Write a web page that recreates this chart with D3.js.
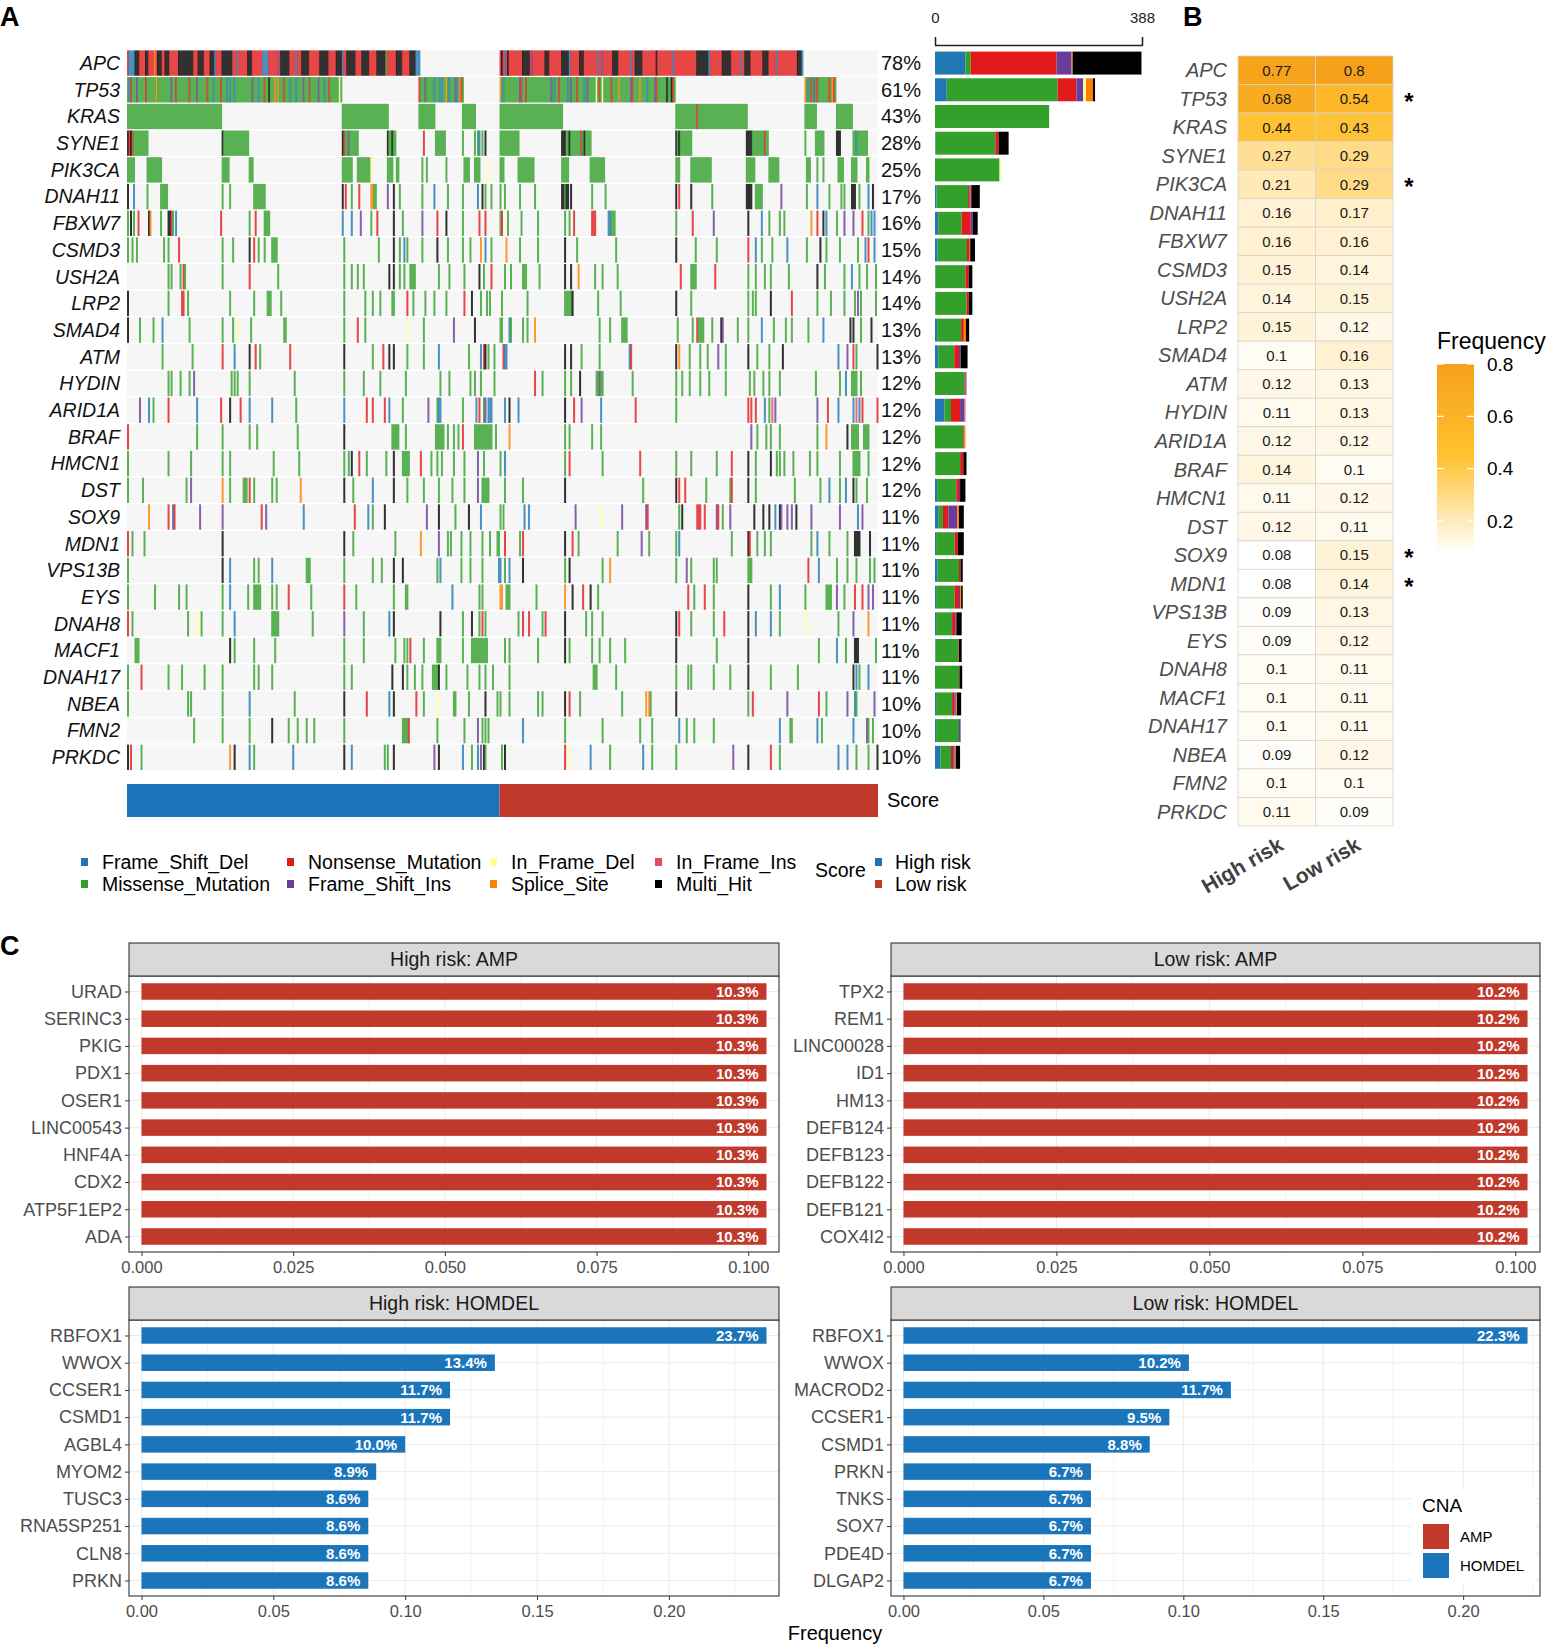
<!DOCTYPE html>
<html>
<head>
<meta charset="utf-8">
<script src="https://cdn.jsdelivr.net/npm/d3@7"></script>
<style>
  body { margin: 0; background: #fff; }
  text { font-family: "Liberation Sans", Arial, Helvetica, sans-serif; }
</style>
</head>
<body>
<svg id="fig" width="1550" height="1647"></svg>
<script>
// ---------- data ----------
var genes = ['APC','TP53','KRAS','SYNE1','PIK3CA','DNAH11','FBXW7','CSMD3','USH2A','LRP2','SMAD4','ATM','HYDIN',
  'ARID1A','BRAF','HMCN1','DST','SOX9','MDN1','VPS13B','EYS','DNAH8','MACF1','DNAH17','NBEA','FMN2','PRKDC'];
var pctLabels = ['78%','61%','43%','28%','25%','17%','16%','15%','14%','14%','13%','13%','12%','12%','12%','12%','12%',
  '11%','11%','11%','11%','11%','11%','11%','10%','10%','10%'];

// legend order = stacking order of the side bars
var mutTypes = ['Frame_Shift_Del','Missense_Mutation','Nonsense_Mutation','Frame_Shift_Ins','In_Frame_Del','Splice_Site','In_Frame_Ins','Multi_Hit'];
var mutCodes = ['F','M','N','I','D','S','P','X'];
var mutColors = ['#1F78B4','#33A02C','#E31A1C','#6A3D9A','#FFFF99','#FF7F00','#E8465A','#000000'];

var nSamples = 500, nHigh = 248;
var scoreGroups = ['High risk','Low risk'];
var scoreColors = ['#1B75BB','#C0392B'];

// sample index (0..499, high risk 0..247) + mutation code; later tokens overwrite earlier ones
var oncoMarks = [
 '0-194N 1-4F 5-7X 12-13X 18S 20-22X 25-27X 34-43X 47-50X 55-57X 58F 63-69X 73F 80-82X 90-93F 100I 102-107X 112F 116-120X 128-133X 139-142X 143F 146-151X 156-160X 166-171X 172M 179-182X 188-191X 192-194F 248-449N 249X 251F 253X 263-267X 269I 278-280X 289-293X 294F 301-303X 313F 316I 323-326X 335F 338-342X 352X 363F 379-386X 387F 396-401X 408F 411-414X 423-426X 432F 446-448X 449F',
 '0-142M 1F 2N 6I 12N 19S 29I 32N 41N 46I 53N 57F 62N 66F 68F 71F 83I 87F 91N 94X 98S 100S 104N 108F 112F 117I 121N 127I 131F 134N 141D 194-223M 194N 198I 204F 208F 209F 212S 214F 218I 219F 221S 222N 248-364M 248S 250F 261I 262N 265N 282I 284F 287N 293F 295I 299N 304F 306I 312D 314N 316D 322N 327S 335I 336N 341S 346F 351I 352N 359X 362X 363N 451-471M 451S 453F 455N 457I 459N 467N 469S 470N',
 '0-62M 143-173M 194-204M 223-231M 248-289M 365-412M 379N 451-458M 472-482M',
 '0X 1N 2X 3N 4-13M 63-80M 63X 143X 144N 145-153M 147I 173X 174-175M 176X 177-178M 197N 205-211M 223M 231M 233M 234F 236M 238X 248-260M 289-291X 292-308M 294X 302N 304X 365X 366-375M 367X 412-415X 416-426M 424N 451M 458-463M 472-474X 483-492M 485F',
 '0-4M 13-22M 63-67M 81-83M 143-149M 153-161M 162D 173-176M 179-180M 196M 199M 212M 224-227M 231-234M 240D 248-250M 260-270M 289-293M 308-317M 365-367M 375-388M 412-417M 427-433M 452-454M 459M 463M 473-476M 482-485M 492-493M',
 '0X 4F 13M 22-26M 63M 68M 84-91M 143X 145N 149M 154N 162-163S 164-165M 173I 177X 181M 196M 204F 213M 223M 233F 236X 238M 242M 248M 251M 261M 271M 289-293X 291M 295X 309M 318M 365X 367N 375X 389M 412-415X 418-422M 435I 452M 459F 467M 475M 477M 482-484X 487M 493F 496X',
 '0M 2X 4M 7N 14X 15S 22M 27-28X 29N 30M 32F 62N 81M 85N 91-94M 143F 149F 155I 162M 166N 177X 183M 196I 206N 212X 223M 234N 238N 248M 249N 253M 262M 273M 291M 294M 297N 309-311N 320-321F 322-324M 365M 376N 390I 413X 422F 427M 434M 437M 455S 459N 463X 465F 472M 477I 483I 489N 493M 495F 497F',
 '0M 3M 6M 24M 27M 34N 63M 70M 81X 84N 87M 91M 96-99M 144M 167M 177X 181M 184F 186M 196M 206X 213M 223M 228M 235S 238F 242M 252S 261M 273M 291X 299M 325M 365X 378M 392M 413N 418F 422M 429M 439F 452M 461X 465M 474M 486M 491F 493N 497F',
 '27M 29M 35M 37N 38M 63M 81N 100M 144M 149M 153M 157M 174X 177X 181M 184M 188-191M 207M 214M 224M 234X 237M 242N 251M 255M 263-265M 274M 291X 295X 300S 311M 316M 326M 368N 375-378M 391N 413M 418M 424M 428M 440M 459X 464M 477M 482F 487M 492M 498M',
 '0X 27M 36-37N 40M 68M 84M 93-95M 102M 144M 158M 163M 168M 176M 177M 186N 190M 198M 204M 212M 224N 229X 235M 239M 241M 249M 266M 291-295M 296X 313M 328M 365X 375M 413M 416M 418M 428X 442N 459M 468M 477M 484M 486I 488M 498M',
 '0X 8M 17M 23F 41M 63M 70M 73D 82M 104-105M 144M 153N 158M 186D 197M 217I 231X 248M 249M 254F 255M 263M 266M 271S 314M 321M 329-332M 366M 376M 379N 380-383M 389M 395X 396I 406M 413M 422F 430M 438M 442M 453M 463F 481X 483X 488M 495X',
 '23M 43M 63N 71F 81X 85N 88M 108N 144X 163M 170N 174X 177X 186M 197M 207F 227M 235F 237N 238X 240M 244M 250N 251F 252F 291X 295X 302M 314M 334F 335N 365X 367S 374M 381M 386M 393I 398M 413X 419M 427M 436X 473F 479I 483N 485M 499X',
 '27M 29M 35M 41M 44I 69M 71M 73M 81M 111M 144M 157M 168M 185M 208M 214M 228M 231M 235M 244M 271N 276M 291M 295M 301X 312-316M 314I 336M 365M 369M 374M 381M 387M 398M 414M 417M 423M 427M 434M 458M 474M 478F 482-485M 488M',
 '8I 14F 17M 27N 46F 62N 68X 75N 81F 96F 112M 144F 159N 163N 171N 174F 183M 200I 206M 207-208F 223M 232F 234N 237M 238I 240-242F 251F 254X 260F 291X 297N 302I 315F 338N 365M 413N 415N 418N 424F 427M 429P 431I 459I 466N 473F 483F 485P 487F 489N 499N',
 '0N 46M 63M 81M 86M 113M 144X 176-180M 185M 205-210M 213M 217M 220M 223N 231-242M 245M 254S 291M 294M 309M 315M 415I 419M 425M 428M 434M 459M 465S 479X 482-486M 490-493M',
 '0M 27M 42M 63M 68M 97M 114M 144M 147M 149X 154N 159M 172M 177X 183-187M 195N 202M 206M 209M 217M 224M 233I 237M 248M 251F 291M 294N 316M 341N 365M 375M 392M 402N 413X 418M 428X 432M 434M 437M 443M 454M 459M 474M 483-487M 493M',
 '0M 10M 39M 42I 63S 68M 77-79M 81N 84M 96M 99M 115S 144X 150M 163F 177X 186M 197M 207M 216M 224M 233I 236-240M 251M 263M 291X 343M 365X 367N 371N 385M 401M 402N 413X 418M 444M 461M 467F 474M 478F 483X 485M 492M',
 '14S 27N 30F 31N 48I 63I 89N 92I 117F 151N 160F 163M 171X 199I 207X 218M 227X 235F 248M 250M 264F 267F 298I 315D 329I 345I 346N 367M 369X 379-381N 384N 392I 393N 396M 401I 417X 423X 427X 431F 434X 435I 439I 442I 445X 455I 474I 486F 489I',
 '0N 3M 11M 63X 144X 150M 178M 195S 207I 213M 215M 222M 228M 236M 241M 246M 247M 251N 261M 263N 291X 296N 300M 326M 342I 347M 365M 367F 402M 413X 414N 419M 424M 428M 455M 459F 467M 479M 484-487X 494X',
 '0M 63X 68F 84M 87M 96F 119-121M 144M 163M 169M 177X 183X 206M 208F 222M 228M 236M 247F 248F 251M 254F 263X 291M 294X 316M 321S 365M 372I 375M 390M 392M 413-415M 453N 460F 472M 479M 485M 494M 497M',
 '0M 18M 34M 39M 63M 68F 80M 84-88M 96M 99M 107N 122M 144N 152M 177M 185-186M 216F 234M 236M 248S 249S 252-254M 272M 291S 296X 303N 308X 313M 373N 377M 384N 390M 413X 428M 434F 451M 465-468M 472I 477M 484N 489N 493I 496I',
 '0N 3M 40M 46D 49M 63M 71F 96-100M 123M 144I 157M 174F 177X 208X 223M 229X 234M 236N 238M 260M 263N 267N 276M 278N 291X 305M 309M 316M 365X 367N 375M 390M 397N 413X 418F 428F 434M 452D 473M 483I 493S',
 '5-7M 68X 71M 84M 98M 144M 157M 178M 184M 186M 188N 197M 206-208M 223M 229-239M 251M 254M 273M 291X 294M 309M 314M 321M 331M 365X 392M 413X 460M 472F 478M 484-486X 498M',
 '0M 9N 27M 36M 51M 63M 84M 87M 96M 144M 149M 176X 183X 186M 191M 196M 203-206M 207X 212M 226M 234M 238M 243M 254M 310-312M 325M 365M 373M 375M 390M 401M 413X 428M 446M 483X 485F 487M 493F',
 '0M 40M 42M 63M 81F 111M 144X 159N 174F 177X 192N 197M 207D 217M 218M 227M 238X 246M 248M 254M 273M 276M 291X 294N 301M 329M 345S 347S 348M 365X 413M 416N 439I 460N 465M 479I 484F 485M 497I',
 '44M 63M 81M 96X 107M 113M 119M 124M 144M 183-186M 187N 206M 224M 233I 236M 238M 240M 263F 291M 316M 341M 349M 367F 372M 377M 390M 434F 441M 442M 459F 462M 483F 492I 493M 496M',
 '0X 2N 9M 68S 71X 81F 84M 110F 144X 149F 171M 173M 177X 204I 207X 223F 229M 233F 235I 237X 238M 249M 251X 291N 294D 308F 321M 343F 349M 365M 403I 413X 428N 434M 473F 479F 485M 493M 499X'
];

// side bar counts per gene: F, M, N, I, D, S, P, X
var barCounts = [
 [57,10,161,28,0,2,0,129],[22,208,35,13,5,13,0,4],[0,214,0,0,0,0,0,0],[1,112,6,0,0,0,0,19],[0,121,0,0,3,0,0,0],
 [3,59,3,2,0,1,0,16],[6,44,17,4,0,0,0,9],[5,55,5,0,0,1,0,9],[1,56,6,0,0,0,0,7],[1,58,4,0,0,0,0,7],
 [4,45,5,0,0,4,0,6],[6,30,9,3,0,0,0,13],[0,55,2,2,0,0,0,0],[18,12,17,8,0,0,2,0],[0,53,2,0,0,2,0,0],
 [1,46,6,0,0,0,0,6],[4,36,5,2,0,0,0,10],[6,9,10,17,0,3,0,9],[2,35,6,0,0,0,0,11],[5,40,3,0,0,0,0,4],
 [2,35,8,2,0,2,0,3],[2,30,6,2,0,0,0,10],[1,43,1,0,0,0,0,5],[0,45,1,0,0,0,0,5],[2,30,4,3,0,2,0,8],
 [2,43,0,3,0,0,0,0],[10,20,4,3,0,2,0,8]
];
var barMax = 388;

// panel B
var freqHigh = [0.77,0.68,0.44,0.27,0.21,0.16,0.16,0.15,0.14,0.15,0.1,0.12,0.11,0.12,0.14,0.11,0.12,0.08,0.08,0.09,0.09,0.1,0.1,0.1,0.09,0.1,0.11];
var freqLow  = [0.8,0.54,0.43,0.29,0.29,0.17,0.16,0.14,0.15,0.12,0.16,0.13,0.13,0.12,0.1,0.12,0.11,0.15,0.14,0.13,0.12,0.11,0.11,0.11,0.12,0.1,0.09];
var starGenes = ['TP53','PIK3CA','SOX9','MDN1'];
var legendTicksB = [0.2,0.4,0.6,0.8];

// panel C
var highAmpGenes = ['URAD','SERINC3','PKIG','PDX1','OSER1','LINC00543','HNF4A','CDX2','ATP5F1EP2','ADA'];
var highAmpFreq  = [0.103,0.103,0.103,0.103,0.103,0.103,0.103,0.103,0.103,0.103];
var lowAmpGenes  = ['TPX2','REM1','LINC00028','ID1','HM13','DEFB124','DEFB123','DEFB122','DEFB121','COX4I2'];
var lowAmpFreq   = [0.102,0.102,0.102,0.102,0.102,0.102,0.102,0.102,0.102,0.102];
var highDelGenes = ['RBFOX1','WWOX','CCSER1','CSMD1','AGBL4','MYOM2','TUSC3','RNA5SP251','CLN8','PRKN'];
var highDelFreq  = [0.237,0.134,0.117,0.117,0.100,0.089,0.086,0.086,0.086,0.086];
var lowDelGenes  = ['RBFOX1','WWOX','MACROD2','CCSER1','CSMD1','PRKN','TNKS','SOX7','PDE4D','DLGAP2'];
var lowDelFreq   = [0.223,0.102,0.117,0.095,0.088,0.067,0.067,0.067,0.067,0.067];
var ampTicks = [0, 0.025, 0.05, 0.075, 0.1];
var delTicks = [0, 0.05, 0.1, 0.15, 0.2];
var cnaTypes = ['AMP','HOMDEL'];
var cnaColors = ['#C0392B','#1B75BB'];

// ---------- drawing ----------
var svg = d3.select('#fig');
var colorOf = {};
mutCodes.forEach(function(c, i){ colorOf[c] = mutColors[i]; });

function parseMarks(s) {
  var cells = [];
  s.trim().split(/\s+/).forEach(function(tok){
    var m = tok.match(/^(\d+)(?:-(\d+))?([A-Z])$/);
    var a = +m[1], b = m[2] ? +m[2] : a;
    for (var i = a; i <= b; i++) cells[i] = m[3];
  });
  return cells;
}

// panel letters
[['A',0,26],['B',1183,26],['C',0,955]].forEach(function(p){
  svg.append('text').attr('x',p[1]).attr('y',p[2]).text(p[0])
    .style('font-size','27px').style('font-weight','bold');
});

// --- A: oncoplot
var xS = d3.scaleLinear().domain([0, nSamples]).range([127, 878]);
var yA = d3.scaleBand().domain(genes).range([50.4, 770]).paddingInner(0.05);

var onco = svg.append('g');
onco.selectAll('rect.bg').data(genes).enter().append('rect')
  .attr('class','bg')
  .attr('x', xS(0)).attr('width', xS(nSamples) - xS(0))
  .attr('y', function(d){ return yA(d); }).attr('height', yA.bandwidth())
  .attr('fill', '#F6F6F6');

genes.forEach(function(g, gi){
  var cells = parseMarks(oncoMarks[gi]);
  var runs = [];
  for (var i = 0; i < nSamples; i++) {
    var t = cells[i];
    if (!t) continue;
    var last = runs[runs.length - 1];
    if (last && last.t === t && last.e === i) last.e = i + 1;
    else runs.push({s: i, e: i + 1, t: t});
  }
  onco.append('g').selectAll('rect').data(runs).enter().append('rect')
    .attr('x', function(d){ return xS(d.s); })
    .attr('width', function(d){ return xS(d.e) - xS(d.s) + 0.5; })
    .attr('y', yA(g)).attr('height', yA.bandwidth())
    .attr('fill', function(d){ return colorOf[d.t]; })
    .attr('fill-opacity', 0.8);
});

onco.selectAll('text.gene').data(genes).enter().append('text')
  .attr('x', 120).attr('y', function(d){ return yA(d) + yA.bandwidth()/2; })
  .attr('dy','0.35em').attr('text-anchor','end')
  .style('font-size','19.5px').style('font-style','italic').style('fill','#111')
  .text(function(d){ return d; });

onco.selectAll('text.pct').data(genes).enter().append('text')
  .attr('x', 881).attr('y', function(d){ return yA(d) + yA.bandwidth()/2; })
  .attr('dy','0.35em')
  .style('font-size','20px').style('fill','#111')
  .text(function(d, i){ return pctLabels[i]; });

// side bars
var xBar = d3.scaleLinear().domain([0, barMax]).range([935, 1142]);
var side = svg.append('g');
genes.forEach(function(g, gi){
  var acc = 0, segs = [];
  barCounts[gi].forEach(function(v, k){ if (v > 0) { segs.push({a: acc, b: acc + v, c: mutColors[k]}); acc += v; } });
  var h = yA.step() * 0.86;
  side.append('g').selectAll('rect').data(segs).enter().append('rect')
    .attr('x', function(d){ return xBar(d.a); })
    .attr('width', function(d){ return xBar(d.b) - xBar(d.a); })
    .attr('y', yA(g) + yA.bandwidth()/2 - h/2).attr('height', h)
    .attr('fill', function(d){ return d.c; });
});
var ax = svg.append('g').attr('transform','translate(0,45)')
  .call(d3.axisTop(xBar).tickValues([0, barMax]).tickSize(8).tickSizeOuter(8).tickPadding(14));
ax.selectAll('text').style('font-size','15px').style('fill','#222')
  .style('font-family','"Liberation Sans", Arial, sans-serif');
ax.selectAll('path,line').attr('stroke','#222').attr('stroke-width',1.3);

// score bar
var scoreG = svg.append('g');
scoreG.append('rect').attr('x', xS(0)).attr('width', xS(nHigh) - xS(0))
  .attr('y', 784).attr('height', 33).attr('fill', scoreColors[0]);
scoreG.append('rect').attr('x', xS(nHigh)).attr('width', xS(nSamples) - xS(nHigh))
  .attr('y', 784).attr('height', 33).attr('fill', scoreColors[1]);
scoreG.append('text').attr('x', 887).attr('y', 800).attr('dy','0.35em')
  .style('font-size','20px').text('Score');

// legend A
var legCols = [81, 287, 490, 655];
var legRows = [862, 884];
var legA = svg.append('g');
mutTypes.forEach(function(t, i){
  var cx = legCols[Math.floor(i/2)], cy = legRows[i % 2];
  legA.append('rect').attr('x', cx).attr('y', cy - 4).attr('width', 7).attr('height', 8).attr('fill', mutColors[i]);
  legA.append('text').attr('x', cx + 21).attr('y', cy).attr('dy','0.35em')
    .style('font-size','19.5px').text(t);
});
legA.append('text').attr('x', 815).attr('y', 870).attr('dy','0.35em').style('font-size','19.5px').text('Score');
scoreGroups.forEach(function(s, i){
  legA.append('rect').attr('x', 875).attr('y', legRows[i] - 4).attr('width', 7).attr('height', 8).attr('fill', scoreColors[i]);
  legA.append('text').attr('x', 895).attr('y', legRows[i]).attr('dy','0.35em').style('font-size','19.5px').text(s);
});

// --- B: frequency heatmap
var xB = d3.scaleBand().domain(scoreGroups).range([1238, 1393]);
var yB = d3.scaleBand().domain(genes).range([56, 826]);
var heat = d3.scaleLinear().domain([0.08, 0.45, 0.8]).range(['#FFFFFF','#FFC02E','#F6A11B']);
var cellsB = [];
genes.forEach(function(g, i){
  cellsB.push({g: g, s: scoreGroups[0], v: freqHigh[i]});
  cellsB.push({g: g, s: scoreGroups[1], v: freqLow[i]});
});
var gB = svg.append('g');
gB.selectAll('rect').data(cellsB).enter().append('rect')
  .attr('x', function(d){ return xB(d.s); }).attr('y', function(d){ return yB(d.g); })
  .attr('width', xB.bandwidth()).attr('height', yB.bandwidth())
  .attr('fill', function(d){ return heat(d.v); })
  .attr('stroke', '#D8D4CC').attr('stroke-width', 0.8);
gB.selectAll('text.val').data(cellsB).enter().append('text')
  .attr('x', function(d){ return xB(d.s) + xB.bandwidth()/2; })
  .attr('y', function(d){ return yB(d.g) + yB.bandwidth()/2; })
  .attr('dy','0.35em').attr('text-anchor','middle')
  .style('font-size','15px').style('fill','#1a1a1a')
  .text(function(d){ return String(d.v); });
gB.selectAll('text.gene').data(genes).enter().append('text')
  .attr('x', 1227).attr('y', function(d){ return yB(d) + yB.bandwidth()/2; })
  .attr('dy','0.35em').attr('text-anchor','end')
  .style('font-size','20px').style('font-style','italic').style('fill','#4D4D4D')
  .text(function(d){ return d; });
gB.selectAll('text.star').data(starGenes).enter().append('text')
  .attr('x', 1409).attr('y', function(d){ return yB(d) + yB.bandwidth()/2 + 11; })
  .attr('text-anchor','middle').style('font-size','24px').style('font-weight','bold')
  .text('*');
gB.selectAll('text.xl').data(scoreGroups).enter().append('text')
  .attr('transform', function(d){ return 'translate(' + (xB(d) + xB.bandwidth()/2 + 8) + ',849) rotate(-30)'; })
  .attr('text-anchor','end')
  .style('font-size','21px').style('font-weight','bold').style('fill','#404040')
  .text(function(d){ return d; });

// legend B
var yLeg = d3.scaleLinear().domain([0.2, 0.8]).range([521, 364]);
var defs = svg.append('defs');
var grad = defs.append('linearGradient').attr('id','gradB')
  .attr('x1',0).attr('y1',1).attr('x2',0).attr('y2',0);
d3.range(0, 1.0001, 0.1).forEach(function(t){
  var v = 0.08 + t * (0.8 - 0.08);
  grad.append('stop').attr('offset', t).attr('stop-color', heat(v));
});
svg.append('rect').attr('x', 1437).attr('width', 37)
  .attr('y', yLeg(0.8)).attr('height', yLeg(0.08) - yLeg(0.8))
  .attr('fill', 'url(#gradB)');
legendTicksB.forEach(function(v){
  svg.append('line').attr('x1',1437).attr('x2',1444).attr('y1',yLeg(v)).attr('y2',yLeg(v)).attr('stroke','#fff').attr('stroke-width',1.2);
  svg.append('line').attr('x1',1467).attr('x2',1474).attr('y1',yLeg(v)).attr('y2',yLeg(v)).attr('stroke','#fff').attr('stroke-width',1.2);
  svg.append('text').attr('x',1487).attr('y',yLeg(v)).attr('dy','0.35em')
    .style('font-size','19px').text(String(v));
});
svg.append('text').attr('x',1437).attr('y',349).style('font-size','23px').text('Frequency');

// --- C: CNA facets
function facet(x0, x1, top, title, names, vals, color, ticks, fmt) {
  var stripH = 33, plotTop = top + stripH, plotBot = plotTop + 276;
  var vmax = d3.max(vals);
  var x = d3.scaleLinear().domain([-0.02 * vmax, 1.02 * vmax]).range([x0, x1]);
  var y = d3.scalePoint().domain(names).range([plotTop + 15.5, plotBot - 15.5]);
  var g = svg.append('g');
  g.append('rect').attr('x', x0).attr('y', plotTop).attr('width', x1 - x0).attr('height', plotBot - plotTop).attr('fill','#fff');
  // minor grid
  for (var k = 0; k < ticks.length - 1; k++) {
    var mv = (ticks[k] + ticks[k+1]) / 2;
    g.append('line').attr('x1', x(mv)).attr('x2', x(mv)).attr('y1', plotTop).attr('y2', plotBot)
      .attr('stroke','#F2F2F2').attr('stroke-width',0.8);
  }
  var last = ticks[ticks.length-1] + (ticks[1]-ticks[0]) / 2;
  if (x(last) < x1) g.append('line').attr('x1', x(last)).attr('x2', x(last)).attr('y1', plotTop).attr('y2', plotBot)
      .attr('stroke','#F2F2F2').attr('stroke-width',0.8);
  g.selectAll('line.vg').data(ticks).enter().append('line')
    .attr('x1', function(d){ return x(d); }).attr('x2', function(d){ return x(d); })
    .attr('y1', plotTop).attr('y2', plotBot).attr('stroke','#EBEBEB').attr('stroke-width',1);
  g.selectAll('line.hg').data(names).enter().append('line')
    .attr('x1', x0).attr('x2', x1)
    .attr('y1', function(d){ return y(d); }).attr('y2', function(d){ return y(d); })
    .attr('stroke','#EBEBEB').attr('stroke-width',1);
  // bars
  var bh = 16.5;
  g.selectAll('rect.bar').data(names).enter().append('rect')
    .attr('x', x(0)).attr('y', function(d){ return y(d) - bh/2; })
    .attr('width', function(d, i){ return x(vals[i]) - x(0); }).attr('height', bh)
    .attr('fill', color);
  g.selectAll('text.bl').data(names).enter().append('text')
    .attr('x', function(d, i){ return x(vals[i]) - 8; }).attr('y', function(d){ return y(d); })
    .attr('dy','0.36em').attr('text-anchor','end')
    .style('font-size','15px').style('font-weight','bold').style('fill','#fff')
    .text(function(d, i){ return (vals[i] * 100).toFixed(1) + '%'; });
  // border
  g.append('rect').attr('x', x0).attr('y', plotTop).attr('width', x1 - x0).attr('height', plotBot - plotTop)
    .attr('fill','none').attr('stroke','#333').attr('stroke-width',1.1);
  // strip
  g.append('rect').attr('x', x0).attr('y', top).attr('width', x1 - x0).attr('height', stripH)
    .attr('fill','#D9D9D9').attr('stroke','#333').attr('stroke-width',1.1);
  g.append('text').attr('x', (x0 + x1)/2).attr('y', top + stripH/2).attr('dy','0.35em')
    .attr('text-anchor','middle').style('font-size','19.5px').style('fill','#1A1A1A').text(title);
  // axes
  var ya = g.append('g').attr('transform','translate(' + x0 + ',0)')
    .call(d3.axisLeft(y).tickSize(4).tickPadding(3).tickSizeOuter(0));
  ya.select('.domain').remove();
  ya.selectAll('line').attr('stroke','#333');
  ya.selectAll('text').style('font-size','18px').style('fill','#4D4D4D')
    .style('font-family','"Liberation Sans", Arial, sans-serif');
  var xa = g.append('g').attr('transform','translate(0,' + plotBot + ')')
    .call(d3.axisBottom(x).tickValues(ticks).tickFormat(d3.format(fmt)).tickSize(4).tickPadding(5).tickSizeOuter(0));
  xa.select('.domain').remove();
  xa.selectAll('line').attr('stroke','#333');
  xa.selectAll('text').style('font-size','16.5px').style('fill','#4D4D4D')
    .style('font-family','"Liberation Sans", Arial, sans-serif');
}
facet(129, 779, 943, 'High risk: AMP', highAmpGenes, highAmpFreq, cnaColors[0], ampTicks, '.3f');
facet(891, 1540, 943, 'Low risk: AMP', lowAmpGenes, lowAmpFreq, cnaColors[0], ampTicks, '.3f');
facet(129, 779, 1287, 'High risk: HOMDEL', highDelGenes, highDelFreq, cnaColors[1], delTicks, '.2f');
facet(891, 1540, 1287, 'Low risk: HOMDEL', lowDelGenes, lowDelFreq, cnaColors[1], delTicks, '.2f');

svg.append('text').attr('x', 835).attr('y', 1633).attr('dy','0.35em').attr('text-anchor','middle')
  .style('font-size','20px').text('Frequency');

// legend C (inside the last panel, white background)
var legC = svg.append('g');
legC.append('rect').attr('x', 1412).attr('y', 1490).attr('width', 124).attr('height', 94).attr('fill', '#fff');
legC.append('text').attr('x', 1422).attr('y', 1505).attr('dy','0.35em').style('font-size','19px').text('CNA');
cnaTypes.forEach(function(t, i){
  legC.append('rect').attr('x', 1423).attr('y', 1524 + i * 29).attr('width', 26).attr('height', 25).attr('fill', cnaColors[i]);
  legC.append('text').attr('x', 1460).attr('y', 1536.5 + i * 29).attr('dy','0.35em').style('font-size','15px').text(t);
});
</script>
</body>
</html>
